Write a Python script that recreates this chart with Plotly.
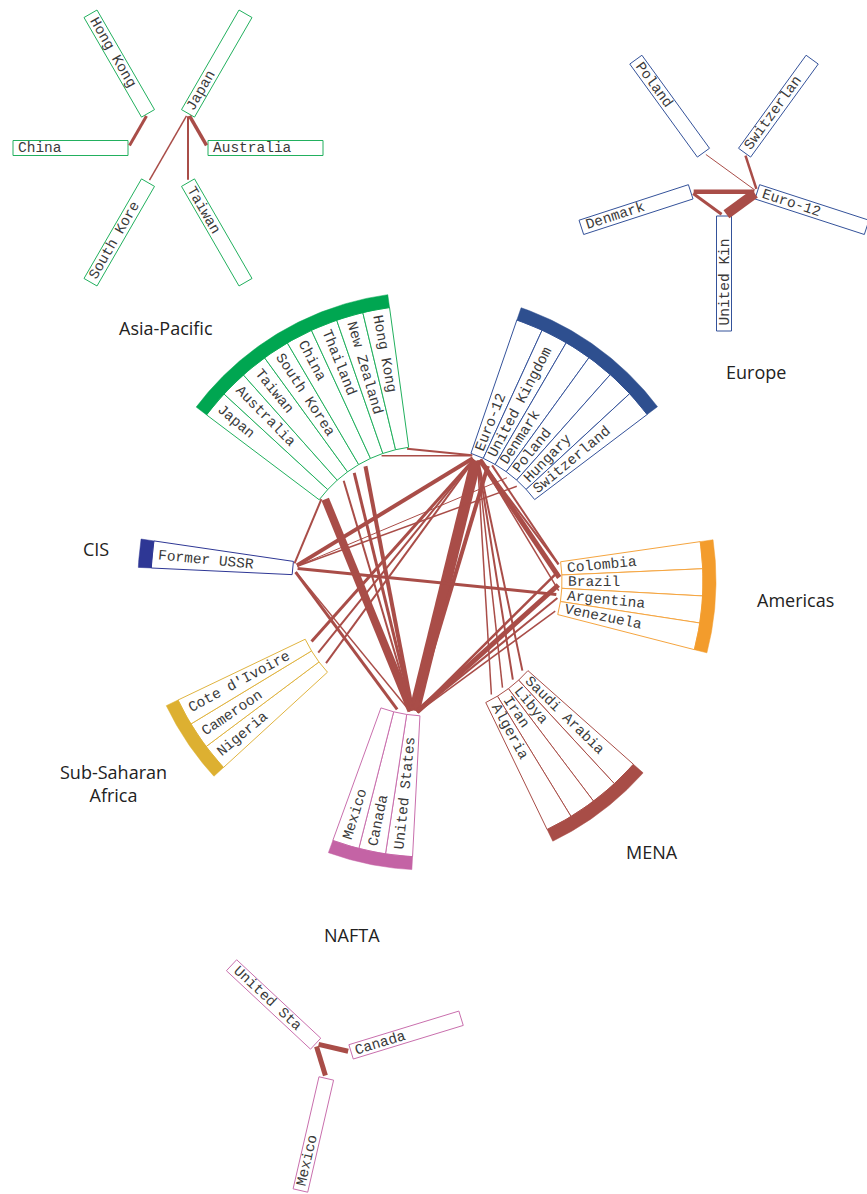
import math
import plotly.graph_objects as go

# ---------------- data ----------------
region_names = ["Asia-Pacific", "Europe", "Americas", "MENA", "NAFTA", "Sub-Saharan Africa", "CIS"]
asia_pacific = ["Japan", "Australia", "Taiwan", "South Korea", "China", "Thailand", "New Zealand", "Hong Kong"]
europe = ["Euro-12", "United Kingdom", "Denmark", "Poland", "Hungary", "Switzerland"]
americas = ["Colombia", "Brazil", "Argentina", "Venezuela"]
mena = ["Saudi Arabia", "Libya", "Iran", "Algeria"]
nafta = ["United States", "Canada", "Mexico"]
sub_saharan = ["Nigeria", "Cameroon", "Cote d'Ivoire"]
cis = ["Former USSR"]
region_countries = [asia_pacific, europe, americas, mena, nafta, sub_saharan, cis]

# flows between regions (main diagram)
flow_source = ["Euro-12", "United Kingdom", "Japan", "China", "South Korea", "Taiwan",
               "Euro-12", "Euro-12", "United Kingdom", "Euro-12",
               "United States", "United States", "United States", "United States",
               "Saudi Arabia", "Libya", "Iran", "Algeria",
               "Former USSR", "Hungary", "Poland", "Former USSR", "Former USSR", "Former USSR", "Former USSR",
               "Cote d'Ivoire", "Cameroon", "Nigeria", "Hong Kong", "Thailand"]
flow_target = ["United States", "United States", "United States", "United States", "United States", "United States",
               "Brazil", "Colombia", "Colombia", "Argentina",
               "Brazil", "Colombia", "Argentina", "Venezuela",
               "Euro-12", "Euro-12", "Euro-12", "Euro-12",
               "Euro-12", "Former USSR", "Former USSR", "Argentina", "Canada", "United States", "Japan",
               "Euro-12", "Euro-12", "Euro-12", "Euro-12", "Euro-12"]
flow_value = [11, 4, 8, 4, 3, 2,
              5, 2, 2, 1.5,
              5, 2.5, 2, 1.5,
              2, 2, 1.5, 1.5,
              4, 1.5, 1, 3, 3, 1.5, 2,
              3, 2, 2, 2, 1.5]

# intra-regional insets
asia_inset = ["Japan", "Australia", "Taiwan", "South Korea", "China", "Hong Kong"]
asia_inset_source = ["China", "South Korea", "Taiwan", "Australia"]
asia_inset_target = ["Hong Kong", "Japan", "Japan", "Japan"]
asia_inset_value = [3, 1.5, 2, 3.5]

europe_inset = ["Switzerland", "Euro-12", "United Kingdom", "Denmark", "Poland"]
europe_inset_source = ["United Kingdom", "Denmark", "Denmark", "Poland", "Switzerland"]
europe_inset_target = ["Euro-12", "Euro-12", "United Kingdom", "Euro-12", "Euro-12"]
europe_inset_value = [10, 4.5, 3, 1, 2.5]

nafta_inset = ["Canada", "Mexico", "United States"]
nafta_inset_source = ["Canada", "Mexico"]
nafta_inset_target = ["United States", "United States"]
nafta_inset_value = [5, 5]

# ---------------- layout / style ----------------
W, H = 867, 1194
CX, CY = 427, 581
R_IN, R_OUT, R_BAND = 135, 276, 289
CELL_DEG = 5.65
FLOW_COLOR = "#A94D48"
TEXT_COLOR = "#3a3a3a"
MONO = "Liberation Mono, Courier New, monospace"
SANS = "Open Sans, Noto Sans, sans-serif"
FS = 14.5
CHAR_W = 0.6 * FS

region_style = {
    "Asia-Pacific": dict(start=-53.0, band="#00A651", line="#22B05E", label=(166, 328)),
    "Europe": dict(start=19.0, band="#2E4F8F", line="#34529A", label=(756, 372)),
    "Americas": dict(start=81.8, band="#F39C2C", line="#F5A540", label=(795, 600)),
    "MENA": dict(start=131.6, band="#A84D47", line="#A84D47", label=(652, 852)),
    "NAFTA": dict(start=183.0, band="#C463A5", line="#C96FAD", label=(352, 935)),
    "Sub-Saharan Africa": dict(start=227.5, band="#DDB031", line="#E0B440", label=(113, 783)),
    "CIS": dict(start=272.7, band="#2E3795", line="#2E3795", label=(96, 549)),
}

insets = [
    dict(names=asia_inset, src=asia_inset_source, tgt=asia_inset_target, val=asia_inset_value,
         cx=168, cy=148, r_in=40, start=30, step=60, color="#22B05E"),
    dict(names=europe_inset, src=europe_inset_source, tgt=europe_inset_target, val=europe_inset_value,
         cx=724, cy=181, r_in=35, start=36, step=72, color="#34529A"),
    dict(names=nafta_inset, src=nafta_inset_source, tgt=nafta_inset_target, val=nafta_inset_value,
         cx=331, cy=1058, r_in=21, start=73, step=120, color="#C96FAD"),
]
INSET_LEN = 115
INSET_W = 15


def polar(cx, cy, r, deg):
    t = math.radians(deg)
    return cx + r * math.sin(t), cy - r * math.cos(t)


def arc(cx, cy, r, a0, a1, n=None):
    if n is None:
        n = max(2, int(abs(a1 - a0) / 0.5) + 1)
    pts = [polar(cx, cy, r, a0 + (a1 - a0) * k / (n - 1)) for k in range(n)]
    return [p[0] for p in pts], [p[1] for p in pts]


fig = go.Figure()
annotations = []


def add_poly(xs, ys, fill, line, width=1):
    fig.add_trace(go.Scatter(x=xs + [xs[0]], y=ys + [ys[0]], mode="lines", fill="toself",
                             fillcolor=fill, line=dict(color=line, width=width),
                             hoverinfo="skip", showlegend=False))


def add_label(cx, cy, ang, r_start, r_end_side, text):
    a = ang % 360
    L = len(text) * CHAR_W
    if a < 180:
        r_c = r_start + L / 2
        ta = a - 90
    else:
        r_c = r_end_side - L / 2
        ta = a + 90 - 360
    x, y = polar(cx, cy, r_c, ang)
    annotations.append(dict(x=x, y=y, xref="x", yref="y", text=text, showarrow=False,
                            textangle=ta, xanchor="center", yanchor="middle",
                            font=dict(family=MONO, size=FS, color=TEXT_COLOR)))


def add_flow(p0, p1, width, shorten=5):
    dx, dy = p1[0] - p0[0], p1[1] - p0[1]
    d = math.hypot(dx, dy)
    ux, uy = dx / d, dy / d
    fig.add_trace(go.Scatter(x=[p0[0] + ux * shorten, p1[0] - ux * shorten],
                             y=[p0[1] + uy * shorten, p1[1] - uy * shorten],
                             mode="lines", line=dict(color=FLOW_COLOR, width=width),
                             hoverinfo="skip", showlegend=False))


# ---------------- main circular diagram ----------------
node_pos = {}
for rname, countries in zip(region_names, region_countries):
    st = region_style[rname]
    s = st["start"]
    for i, c in enumerate(countries):
        a0 = s + i * CELL_DEG
        a1 = a0 + CELL_DEG
        xi, yi = arc(CX, CY, R_IN, a0, a1)
        xo, yo = arc(CX, CY, R_OUT, a1, a0)
        add_poly(xi + xo, yi + yo, "white", st["line"], 1)
        ac = a0 + CELL_DEG / 2
        node_pos[c] = polar(CX, CY, R_IN, ac)
        add_label(CX, CY, ac, R_IN + 6, R_OUT - 6, c)
    e = s + len(countries) * CELL_DEG
    xi, yi = arc(CX, CY, R_OUT, s, e)
    xo, yo = arc(CX, CY, R_BAND, e, s)
    add_poly(xi + xo, yi + yo, st["band"], st["band"], 0.5)
    lx, ly = st["label"]
    annotations.append(dict(x=lx, y=ly, xref="x", yref="y", text=rname.replace(" Africa", "<br>Africa"),
                            showarrow=False, xanchor="center", yanchor="middle",
                            font=dict(family=SANS, size=18, color="#222222")))

for s_, t_, v in zip(flow_source, flow_target, flow_value):
    add_flow(node_pos[s_], node_pos[t_], v)

# ---------------- insets ----------------
for ins in insets:
    pos = {}
    cx, cy, r_in = ins["cx"], ins["cy"], ins["r_in"]
    r_out = r_in + INSET_LEN
    for i, name in enumerate(ins["names"]):
        ang = ins["start"] + i * ins["step"]
        t = math.radians(ang)
        nx, ny = math.cos(t), math.sin(t)  # perpendicular (screen coords)
        p_in = polar(cx, cy, r_in, ang)
        p_out = polar(cx, cy, r_out, ang)
        hw = INSET_W / 2
        xs = [p_in[0] + nx * hw, p_out[0] + nx * hw, p_out[0] - nx * hw, p_in[0] - nx * hw]
        ys = [p_in[1] + ny * hw, p_out[1] + ny * hw, p_out[1] - ny * hw, p_in[1] - ny * hw]
        add_poly(xs, ys, "white", ins["color"], 1)
        pos[name] = p_in
        add_label(cx, cy, ang, r_in + 5, r_out - 5, name[:10])
    for s_, t_, v in zip(ins["src"], ins["tgt"], ins["val"]):
        add_flow(pos[s_], pos[t_], v, shorten=3)

fig.update_layout(
    width=W, height=H, margin=dict(l=0, r=0, t=0, b=0),
    paper_bgcolor="white", plot_bgcolor="white",
    xaxis=dict(range=[0, W], visible=False, fixedrange=True),
    yaxis=dict(range=[H, 0], visible=False, fixedrange=True),
    annotations=annotations, showlegend=False,
)
fig.write_html("out.html", config={"displayModeBar": False},
               post_script="document.body.style.margin='0';document.body.style.overflow='hidden';")
